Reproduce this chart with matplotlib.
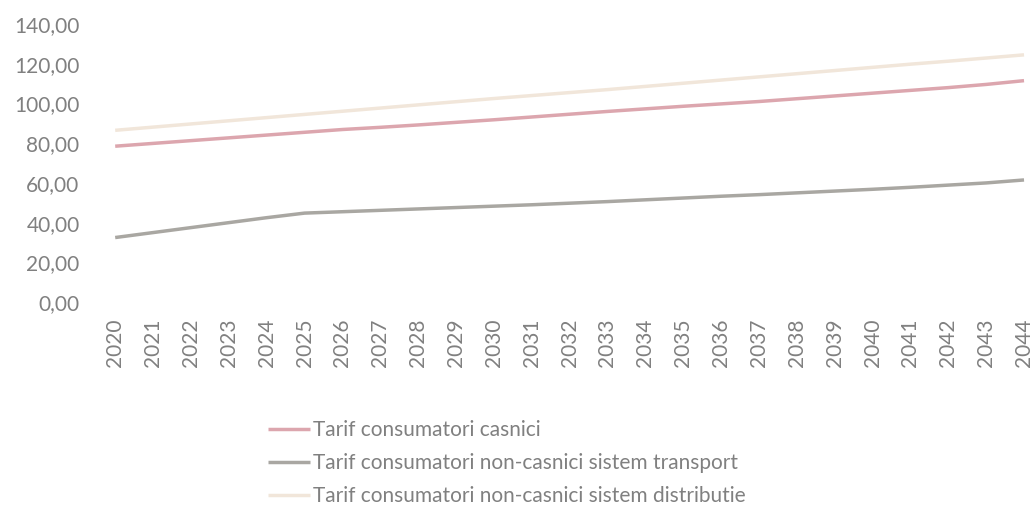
import matplotlib.pyplot as plt

plt.rcParams['font.family'] = ['Lato', 'DejaVu Sans']

years = [str(y) for y in range(2020, 2045)]

# Tarif consumatori casnici
casnici = [78.5, 79.9, 81.3, 82.7, 84.1, 85.5, 86.9, 88.0, 89.2, 90.5,
           91.8, 93.2, 94.6, 96.0, 97.3, 98.6, 99.8, 101.0, 102.4, 103.8,
           105.2, 106.6, 108.0, 109.6, 111.5]
# Tarif consumatori non-casnici sistem transport
transport = [32.5, 35.0, 37.5, 40.0, 42.5, 44.8, 45.5, 46.2, 46.9, 47.6,
             48.3, 49.0, 49.8, 50.6, 51.5, 52.4, 53.3, 54.1, 55.0, 55.9,
             56.8, 57.8, 58.9, 60.0, 61.5]
# Tarif consumatori non-casnici sistem distributie
distributie = [86.5, 88.1, 89.7, 91.3, 92.9, 94.5, 96.1, 97.7, 99.3, 100.9,
               102.5, 104.0, 105.5, 107.0, 108.6, 110.2, 111.8, 113.4, 115.0, 116.6,
               118.2, 119.8, 121.3, 122.9, 124.5]

fig = plt.figure(figsize=(10.35, 5.12), dpi=100)
ax = fig.add_axes([0.093, 0.41, 0.907, 0.543])

x = range(len(years))
ax.plot(x, casnici, color='#dca6ae', lw=2.5, solid_capstyle='butt',
        label='Tarif consumatori casnici')
ax.plot(x, transport, color='#a9a7a2', lw=2.5, solid_capstyle='butt',
        label='Tarif consumatori non-casnici sistem transport')
ax.plot(x, distributie, color='#f1e6da', lw=2.5, solid_capstyle='butt',
        label='Tarif consumatori non-casnici sistem distributie')

ax.set_ylim(0, 140)
ax.set_yticks(range(0, 141, 20))
ax.set_yticklabels(['%d,00' % v for v in range(0, 141, 20)])
ax.set_xlim(-0.5, 24.29)
ax.set_xticks(list(x))
ax.set_xticklabels(years, rotation=90)
ax.tick_params(length=0, labelsize=15, colors='#808080', pad=12)
ax.tick_params(axis='y', pad=12)
for s in ax.spines.values():
    s.set_visible(False)

fig.legend(loc='upper left', bbox_to_anchor=(268 / 1035, 92 / 512),
           frameon=False, fontsize=15, labelcolor='#808080',
           handlelength=2.0, handletextpad=0.15, labelspacing=0.62,
           borderpad=0, borderaxespad=0)

plt.savefig('out.png', dpi=100)
